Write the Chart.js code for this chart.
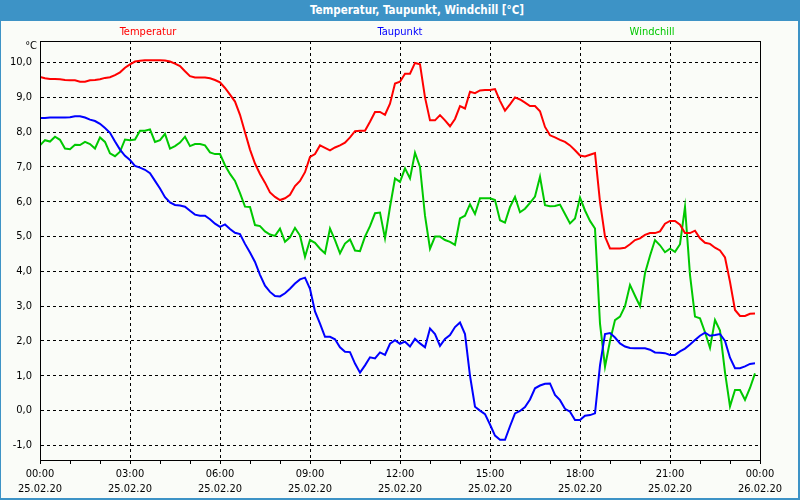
<!DOCTYPE html>
<html lang="de">
<head>
<meta charset="utf-8">
<title>Temperatur, Taupunkt, Windchill</title>
<script src="https://cdn.jsdelivr.net/npm/chart.js@4.4.1/dist/chart.umd.min.js"></script>
<style>
    html, body { margin: 0; padding: 0; }
    body { position: relative; width: 800px; height: 500px; overflow: hidden; background: #fafcf8; }
    #chartBox { position: absolute; left: 0; top: 0; width: 800px; height: 500px; }
    #titleBar {
        position: absolute; left: 0; top: 0; width: 800px; height: 21px;
        box-sizing: border-box; padding-left: 34px;
        background: #3d93c6; color: #fff; text-align: center;
        font: bold 11.5px 'DejaVu Sans Condensed', 'DejaVu Sans', sans-serif; line-height: 21px;
    }
    #border {
        position: absolute; left: 0; top: 0; width: 800px; height: 500px; box-sizing: border-box;
        border: 1px solid #3d93c6; border-bottom-width: 2px; border-right-width: 2px; pointer-events: none;
    }
</style>
</head>
<body>
<div id="chartBox"><canvas id="weatherChart"></canvas></div>
<div id="titleBar">Temperatur, Taupunkt, Windchill [°C]</div>
<div id="border"></div>
<script>
// 10-minute values, 25.02.20 00:00 .. 23:50
const STEP_HOURS = 10 / 60;
const DATE_START = '25.02.20';
const DATE_END = '26.02.20';

const temperatur = [
    9.59, 9.55, 9.53, 9.53, 9.52, 9.50, 9.49, 9.49, 9.45, 9.45, 9.49, 9.50,
    9.52, 9.56, 9.58, 9.64, 9.72, 9.85, 9.95, 10.03, 10.05, 10.07, 10.07, 10.07,
    10.07, 10.06, 10.03, 9.97, 9.90, 9.75, 9.61, 9.57, 9.57, 9.57, 9.55, 9.50,
    9.43, 9.27, 9.08, 8.88, 8.50, 8.00, 7.50, 7.10, 6.80, 6.55, 6.27, 6.14,
    6.05, 6.10, 6.20, 6.45, 6.60, 6.85, 7.29, 7.37, 7.62, 7.55, 7.48, 7.56,
    7.62, 7.70, 7.85, 8.03, 8.04, 8.04, 8.30, 8.58, 8.58, 8.50, 8.82, 9.40,
    9.45, 9.68, 9.68, 9.99, 9.95, 9.00, 8.34, 8.34, 8.49, 8.34, 8.17, 8.38,
    8.75, 8.68, 9.16, 9.12, 9.20, 9.21, 9.21, 9.24, 8.90, 8.62, 8.80, 9.00,
    8.94, 8.85, 8.75, 8.75, 8.60, 8.15, 7.91, 7.85, 7.78, 7.72, 7.62, 7.48,
    7.33, 7.30, 7.35, 7.40, 6.00, 5.00, 4.66, 4.66, 4.66, 4.68, 4.78, 4.90,
    4.95, 5.05, 5.10, 5.10, 5.15, 5.37, 5.45, 5.45, 5.34, 5.10, 5.10, 5.17,
    4.95, 4.82, 4.79, 4.68, 4.60, 4.40, 3.70, 2.89, 2.72, 2.72, 2.78, 2.79
];

const taupunkt = [
    8.41, 8.41, 8.42, 8.42, 8.42, 8.42, 8.43, 8.46, 8.46, 8.42, 8.36, 8.32,
    8.24, 8.12, 7.98, 7.73, 7.50, 7.32, 7.20, 7.03, 6.98, 6.92, 6.82, 6.60,
    6.38, 6.13, 5.98, 5.91, 5.89, 5.86, 5.74, 5.63, 5.60, 5.60, 5.50, 5.37,
    5.28, 5.35, 5.22, 5.11, 5.07, 4.79, 4.54, 4.27, 3.90, 3.59, 3.41, 3.29,
    3.28, 3.37, 3.50, 3.65, 3.77, 3.82, 3.50, 2.85, 2.50, 2.12, 2.12, 2.05,
    1.82, 1.69, 1.68, 1.35, 1.09, 1.30, 1.53, 1.50, 1.67, 1.60, 1.92, 2.02,
    1.92, 1.98, 1.84, 2.06, 1.93, 1.82, 2.36, 2.20, 1.86, 2.06, 2.17, 2.40,
    2.53, 2.20, 1.00, 0.11, 0.00, -0.10, -0.40, -0.72, -0.84, -0.84, -0.45, -0.08,
    -0.01, 0.10, 0.32, 0.64, 0.72, 0.77, 0.78, 0.45, 0.30, 0.05, -0.03, -0.27,
    -0.27, -0.15, -0.13, -0.08, 1.30, 2.20, 2.23, 2.10, 1.93, 1.84, 1.80, 1.79,
    1.79, 1.79, 1.75, 1.67, 1.66, 1.65, 1.60, 1.60, 1.70, 1.78, 1.90, 2.03,
    2.15, 2.24, 2.15, 2.17, 2.20, 2.00, 1.52, 1.22, 1.22, 1.27, 1.34, 1.36
];

const windchill = [
    7.62, 7.77, 7.73, 7.87, 7.78, 7.53, 7.51, 7.64, 7.63, 7.72, 7.66, 7.53,
    7.85, 7.72, 7.39, 7.31, 7.44, 7.79, 7.77, 7.79, 8.04, 8.04, 8.08, 7.72,
    7.77, 7.95, 7.53, 7.60, 7.70, 7.87, 7.60, 7.66, 7.66, 7.62, 7.42, 7.37,
    7.37, 7.05, 6.80, 6.60, 6.25, 5.86, 5.85, 5.33, 5.30, 5.15, 5.06, 5.02,
    5.23, 4.85, 4.98, 5.25, 5.03, 4.42, 4.90, 4.82, 4.65, 4.52, 5.23, 4.90,
    4.52, 4.80, 4.92, 4.60, 4.58, 5.00, 5.30, 5.67, 5.69, 4.95, 5.85, 6.67,
    6.57, 6.96, 6.67, 7.41, 7.00, 5.60, 4.65, 5.00, 5.00, 4.90, 4.85, 4.76,
    5.52, 5.60, 5.93, 5.65, 6.10, 6.10, 6.10, 6.05, 5.47, 5.40, 5.85, 6.14,
    5.70, 5.80, 5.97, 6.15, 6.72, 5.90, 5.87, 5.88, 5.92, 5.65, 5.38, 5.52,
    6.12, 5.75, 5.45, 5.23, 2.50, 1.26, 2.00, 2.60, 2.70, 3.00, 3.61, 3.30,
    3.00, 3.95, 4.45, 4.90, 4.75, 4.55, 4.65, 4.56, 4.78, 5.85, 3.90, 2.70,
    2.65, 2.25, 1.80, 2.60, 2.30, 1.10, 0.12, 0.59, 0.59, 0.31, 0.65, 1.07
];

const FONT = "'DejaVu Sans Condensed', 'DejaVu Sans', sans-serif";

document.addEventListener('DOMContentLoaded', function () {
    renderWeatherChart();
});

/**
 * Draws the chart into the canvas `weatherChart`.
 */
function renderWeatherChart() {
    const ctx = document.getElementById('weatherChart').getContext('2d');
    new Chart(ctx, {
        type: 'line',
        data: getChartData(),
        options: getChartOptions(),
        plugins: [frameAndLabels]
    });
}

function toPoints(values) {
    return values.map((v, i) => ({ x: i * STEP_HOURS, y: v }));
}

function lineSet(label, values, color) {
    return {
        label: label,
        data: toPoints(values),
        borderColor: color,
        backgroundColor: color,
        borderWidth: 2,
        pointRadius: 0,
        tension: 0
    };
}

function getChartData() {
    return {
        datasets: [
            lineSet('Temperatur', temperatur, '#ff0000'),
            lineSet('Taupunkt', taupunkt, '#0000ff'),
            lineSet('Windchill', windchill, '#00c800')
        ]
    };
}

function hourLabel(value) {
    if (value % 3 !== 0) return '';
    const hh = String(value % 24).padStart(2, '0') + ':00';
    return [hh, value >= 24 ? DATE_END : DATE_START];
}

// frame round the plot, the "°C" unit and the legend row
const frameAndLabels = {
    id: 'frameAndLabels',
    afterDraw(chart) {
        const { ctx, chartArea: a } = chart;
        ctx.save();
        ctx.strokeStyle = '#000';
        ctx.lineWidth = 1;
        ctx.strokeRect(Math.round(a.left) + 0.5, Math.round(a.top) + 0.5,
            Math.round(a.right - a.left), Math.round(a.bottom - a.top));

        ctx.font = '11px ' + FONT;
        ctx.textBaseline = 'middle';
        ctx.fillStyle = '#000';
        ctx.textAlign = 'right';
        ctx.fillText('°C', 37, 46);

        ctx.textAlign = 'center';
        const mid = chart.width / 2;
        chart.data.datasets.forEach((ds, i) => {
            ctx.fillStyle = ds.borderColor;
            ctx.fillText(ds.label, mid + (i - 1) * 252, 32);
        });
        ctx.restore();
    }
};

function getChartOptions() {
    const tickFont = { family: FONT, size: 11, lineHeight: 1.36 };
    return {
        responsive: true,
        maintainAspectRatio: false,
        animation: false,
        layout: { padding: { top: 41, right: 40, left: 0, bottom: 0 } },
        plugins: {
            legend: { display: false },
            title: { display: false },
            tooltip: { enabled: false }
        },
        scales: {
            x: {
                type: 'linear',
                min: 0,
                max: 24,
                afterFit: function (scale) { scale.height = 40; },
                ticks: {
                    stepSize: 1,
                    autoSkip: false,
                    maxRotation: 0,
                    padding: 3,
                    color: '#000',
                    font: tickFont,
                    callback: hourLabel
                },
                grid: {
                    color: c => (c.tick && c.tick.value % 3 === 0) ? '#000' : 'rgba(0,0,0,0)',
                    tickColor: '#000',
                    tickLength: 4,
                    lineWidth: 1
                },
                border: { color: '#000', width: 1, dash: [3, 3] }
            },
            y: {
                min: -1.42,
                max: 10.62,
                afterFit: function (scale) { scale.width = 40; },
                ticks: {
                    stepSize: 1,
                    includeBounds: false,
                    padding: 8,
                    color: '#000',
                    font: tickFont,
                    callback: v => v.toFixed(1).replace('.', ',')
                },
                grid: { drawTicks: false, color: '#000', lineWidth: 1 },
                border: { color: '#000', width: 1, dash: [3, 3] }
            }
        }
    };
}
</script>
</body>
</html>
